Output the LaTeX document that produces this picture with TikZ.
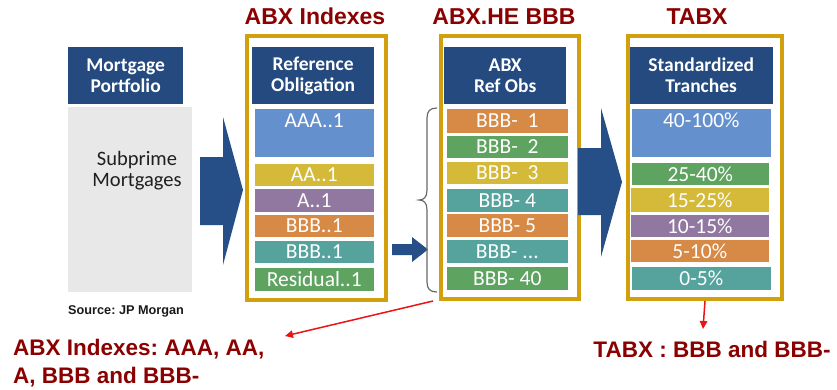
\documentclass[tikz,border=0pt]{standalone}
\usepackage{fontspec}
\setmainfont{Liberation Sans}
\newfontfamily\bandfont{Carlito}
\usetikzlibrary{arrows.meta}
\frenchspacing

\definecolor{hdrblue}{RGB}{36,74,128}
\definecolor{arrowblue}{RGB}{38,78,135}
\definecolor{bandsky}{RGB}{100,145,205}
\definecolor{bandyellow}{RGB}{212,186,56}
\definecolor{bandpurple}{RGB}{145,120,160}
\definecolor{bandorange}{RGB}{215,137,70}
\definecolor{bandteal}{RGB}{86,163,158}
\definecolor{bandgreen}{RGB}{95,163,97}
\definecolor{framegold}{RGB}{210,160,12}
\definecolor{titlered}{RGB}{139,0,0}
\definecolor{poolgray}{RGB}{232,232,232}
\definecolor{bracegray}{RGB}{105,105,105}
\definecolor{notered}{RGB}{235,20,20}

\tikzset{
  titletext/.style={font=\bfseries\fontsize{23pt}{24pt}\selectfont, text=titlered, inner sep=0pt},
  notetext/.style={font=\bfseries\fontsize{22.5pt}{28pt}\selectfont, text=titlered, inner sep=0pt},
  goldframe/.style={draw=framegold, line width=4pt, anchor=north west, inner sep=0pt},
  header/.style={fill=hdrblue, text=white, anchor=north west, inner sep=0pt, align=center,
    font=\bandfont\bfseries\fontsize{19.5pt}{21pt}\selectfont},
  band/.style={text=white, anchor=north west, inner sep=0pt, draw=white!55, line width=0.6pt,
    font=\bandfont\fontsize{21.5pt}{22pt}\selectfont},
  tallband/.style={band, inner ysep=3pt, text height=16pt, text depth=27pt},
  bigarrow/.style={fill=arrowblue},
  callout/.style={draw=notered, line width=1.5pt, -{Triangle[length=8pt,width=7.5pt]}}
}

\begin{document}
\begin{tikzpicture}[x=1pt,y=-1pt]
\useasboundingbox (0,0) rectangle (837,389);

% ---------------- mortgage portfolio ----------------
\node[header, minimum width=115pt, minimum height=57pt] (mp) at (68,47) {Mortgage\\Portfolio};
\node[fill=poolgray, anchor=north west, inner sep=0pt, minimum width=124pt, minimum height=185pt] (pool) at (68,107) {};
\node[font=\bandfont\fontsize{20.5pt}{21pt}\selectfont, text=black!88, align=center, inner sep=0pt]
  (sub) at (137,171) {Subprime\\Mortgages};
\node[font=\bfseries\fontsize{12.7pt}{14pt}\selectfont, text=black!90, anchor=base west, inner sep=0pt]
  (src) at (68,314) {Source: JP Morgan};

% big arrow into the index column
\fill[bigarrow] (200,157) -- (223,157) -- (223,117) -- (243,190) -- (223,265) -- (223,225) -- (200,225) -- cycle;

% ---------------- ABX indexes ----------------
\node[titletext, anchor=base] (t1) at (315,24) {ABX Indexes};
\node[header, minimum width=122pt, minimum height=57pt] (h1) at (252,47) {Reference\\Obligation};
\node[tallband, fill=bandsky, minimum width=120pt, minimum height=49pt] (r1) at (254,108) {AAA..1};
\node[band, fill=bandyellow, minimum width=120pt, minimum height=23pt] (r2) at (254,163) {AA..1};
\node[band, fill=bandpurple, minimum width=120pt, minimum height=24pt] (r3) at (254,188) {A..1};
\node[band, fill=bandorange, minimum width=120pt, minimum height=23pt] (r4) at (254,214) {BBB..1};
\node[band, fill=bandteal, minimum width=120pt, minimum height=23pt] (r5) at (254,240) {BBB..1};
\node[band, fill=bandgreen, minimum width=120pt, minimum height=24pt] (r6) at (254,267) {Residual..1};
\node[goldframe, minimum width=139pt, minimum height=264pt] (f1) at (245,34) {};

% small arrow towards the BBB- reference obligations
\fill[bigarrow] (392,244) -- (412,244) -- (412,237) -- (428,249.5) -- (412,262) -- (412,255) -- (392,255) -- cycle;

% brace grouping the BBB- obligations
\draw[bracegray, line width=1.2pt]
  (437,108) .. controls (430,108) and (427,111) .. (427,118) -- (427,190)
  .. controls (427,197) and (424,200) .. (419,200)
  .. controls (424,200) and (427,203) .. (427,210) -- (427,282)
  .. controls (427,289) and (430,292) .. (437,292);

% ---------------- ABX.HE BBB ----------------
\node[titletext, anchor=base] (t2) at (504,24) {ABX.HE BBB};
\node[header, minimum width=122pt, minimum height=57pt] (h2) at (444,47) {ABX\\Ref Obs};
\node[band, fill=bandorange, minimum width=122pt, minimum height=25pt] (b1) at (446,108) {BBB-\ \ 1};
\node[band, fill=bandgreen, minimum width=122pt, minimum height=23pt] (b2) at (446,135) {BBB-\ \ 2};
\node[band, fill=bandyellow, minimum width=122pt, minimum height=23pt] (b3) at (446,161) {BBB-\ \ 3};
\node[band, fill=bandteal, minimum width=122pt, minimum height=24pt] (b4) at (446,188) {BBB- 4};
\node[band, fill=bandorange, minimum width=122pt, minimum height=24pt] (b5) at (446,213) {BBB- 5};
\node[band, fill=bandteal, minimum width=122pt, minimum height=24pt] (b6) at (446,239) {BBB- ...};
\node[band, fill=bandgreen, minimum width=122pt, minimum height=24pt] (b7) at (446,266) {BBB- 40};
\node[goldframe, minimum width=138pt, minimum height=263pt] (f2) at (439,34) {};

% big arrow into the tranche column
\fill[bigarrow] (578,148) -- (601,148) -- (601,108) -- (622,182) -- (601,257) -- (601,215) -- (578,215) -- cycle;

% ---------------- TABX ----------------
\node[titletext, anchor=base] (t3) at (697,24) {TABX};
\node[header, minimum width=144pt, minimum height=57pt] (h3) at (629,47) {Standardized\\Tranches};
\node[tallband, fill=bandsky, minimum width=140pt, minimum height=49pt] (s1) at (631,108) {40-100\%};
\node[band, fill=bandgreen, minimum width=138pt, minimum height=23pt] (s2) at (631,162) {25-40\%};
\node[band, fill=bandyellow, minimum width=139pt, minimum height=25pt] (s3) at (630,187) {15-25\%};
\node[band, fill=bandpurple, minimum width=139pt, minimum height=23pt] (s4) at (630,214) {10-15\%};
\node[band, fill=bandorange, minimum width=139pt, minimum height=23pt] (s5) at (630,239) {5-10\%};
\node[band, fill=bandteal, minimum width=140pt, minimum height=24pt] (s6) at (631,266) {0-5\%};
\node[goldframe, minimum width=154pt, minimum height=263pt] (f3) at (626,34) {};

% ---------------- notes ----------------
\node[notetext, anchor=north west, align=left] (abxnote) at (13,338.5) {ABX Indexes: AAA, AA,\\A, BBB and BBB-};
\node[notetext, anchor=base] (tabxnote) at (712,357) {TABX : BBB and BBB-};
\coordinate (abxtip) at (285,336);
\coordinate (tabxtip) at (703,329);
\draw[callout] ([xshift=-6pt]f2.south west) -- (abxtip);
\draw[callout] (f3.south) -- (tabxtip);
\end{tikzpicture}
\end{document}
